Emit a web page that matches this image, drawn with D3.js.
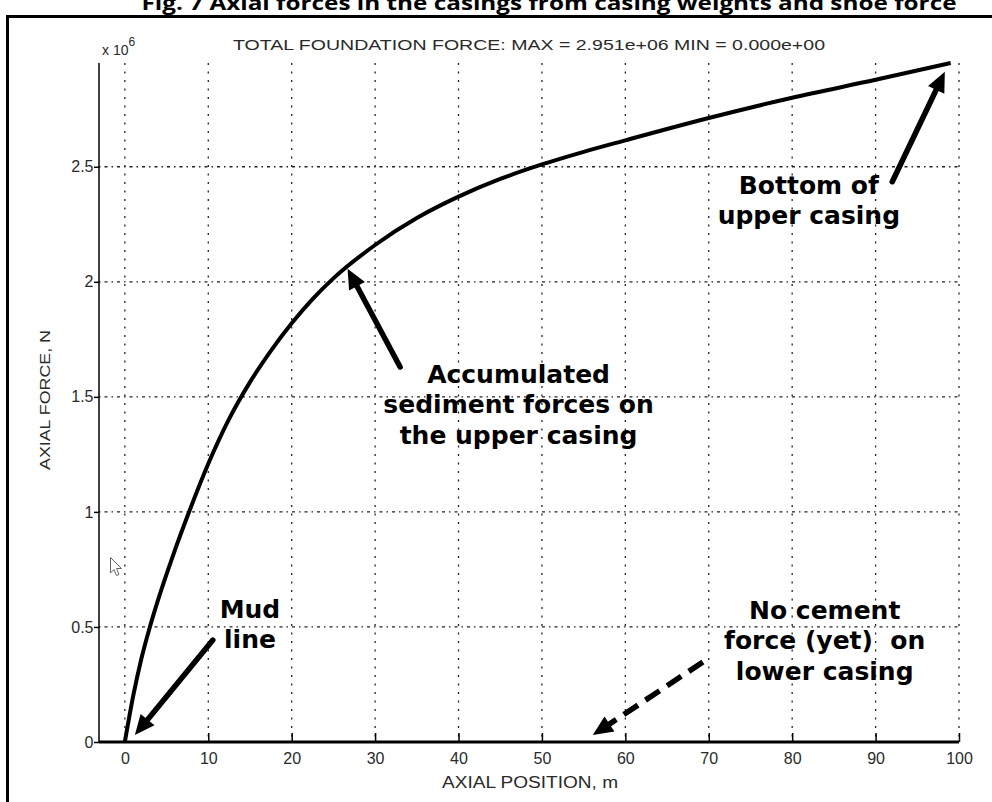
<!DOCTYPE html>
<html><head><meta charset="utf-8">
<script src="https://cdn.jsdelivr.net/npm/d3@7"></script>
<style>body{margin:0;background:#fff} svg{display:block}</style>
</head><body>
<script>
// ---- data (force in units of 10^6 N) ----
const axialPosition = [0,1,2,3,4,5,6,7.5,10,12.5,15,17.5,20,22.5,25,30,35,40,45,50,55,60,70,80,90,99];
const axialForce    = [0,0.2,0.365,0.5,0.62,0.73,0.834,0.981,1.209,1.404,1.564,1.70,1.82,1.925,2.015,2.16,2.277,2.37,2.447,2.51,2.565,2.615,2.712,2.800,2.878,2.951];
const xTickValues = [0,10,20,30,40,50,60,70,80,90,100];
const xTickLabels = ["0","10","20","30","40","50","60","70","80","90","100"];
const yTickValues = [0,0.5,1,1.5,2,2.5];
const yTickLabels = ["0","0.5","1","1.5","2","2.5"];
const noteLines = [["Mud","line"],["Accumulated","sediment forces on","the upper casing"],["Bottom of","upper casing"],["No cement","force (yet)  on","lower casing"]];
const noteCenterX = [15.0, 47.2, 82.0, 83.9];
const noteFirstY  = [0.539, 1.561, 2.383, 0.535];
const arrowTail = [[10.55,0.443],[33.0,1.63],[92.0,2.435],[69.3,0.348]];
const arrowHead = [[1.2,0.03],[26.7,2.057],[98.3,2.913],[56.1,0.03]];
const arrowDashed = [false,false,false,true];
const figTitle = "Fig. 7 Axial forces in the casings from casing weights and shoe force";
const plotTitle = "TOTAL FOUNDATION FORCE: MAX = 2.951e+06 MIN = 0.000e+00";
const xLabel = "AXIAL POSITION, m";
const yLabel = "AXIAL FORCE, N";

const W = 992, H = 802;
const svg = d3.select("body").append("svg").attr("width", W).attr("height", H);
const x = d3.scaleLinear().domain([-3.1, 100]).range([99, 959]);
const y = d3.scaleLinear().domain([0, 2.951]).range([742, 63]);

// figure caption (cut off at the top, as in the source)
svg.append("text").attr("x", 549).attr("y", 10).attr("text-anchor","middle")
  .attr("font-family","'Open Sans', sans-serif").attr("font-weight","bold").attr("font-size",20)
  .attr("textLength",815).attr("lengthAdjust","spacingAndGlyphs").text(figTitle);
// frame
svg.append("path").attr("d","M7.5,802 V16.5 H992").attr("fill","none").attr("stroke","#000").attr("stroke-width",3);

const g = svg.append("g");
// grid
g.selectAll(".vg").data(xTickValues).enter().append("line")
  .attr("x1", d=>x(d)).attr("x2", d=>x(d)).attr("y1", y(2.951)).attr("y2", y(0))
  .attr("stroke","#222").attr("stroke-width",1.3).attr("stroke-dasharray","2,6.5");
g.selectAll(".hg").data(yTickValues.slice(1)).enter().append("line")
  .attr("x1", x.range()[0]).attr("x2", x.range()[1]).attr("y1", d=>y(d)).attr("y2", d=>y(d))
  .attr("stroke","#222").attr("stroke-width",1.3).attr("stroke-dasharray","1.5,4,3,4");

// axes
const fontAx = "'Liberation Sans', Arial, sans-serif";
const xAxis = d3.axisBottom(x).tickValues(xTickValues).tickFormat((d,i)=>xTickLabels[i]).tickSize(-9).tickPadding(11);
const gx = svg.append("g").attr("transform",`translate(0,${y(0)})`).call(xAxis);
gx.select(".domain").attr("d",`M${x.range()[0]},0H${x.range()[1]}`).attr("stroke-width",3);
gx.selectAll(".tick line").attr("stroke-width",1.5);
gx.selectAll("text").attr("font-family",fontAx).attr("font-size",16).attr("fill","#2a2a2a");

const yAxis = d3.axisLeft(y).tickValues(yTickValues).tickFormat((d,i)=>yTickLabels[i]).tickSize(5).tickPadding(0.5);
const gy = svg.append("g").attr("transform",`translate(${x.range()[0]},0)`).call(yAxis);
gy.select(".domain").attr("d",`M0,${y.range()[1]}V${y.range()[0]}`).attr("stroke-width",1.5);
gy.selectAll(".tick line").attr("stroke-width",1.5);
gy.selectAll("text").attr("font-family",fontAx).attr("font-size",16).attr("fill","#2a2a2a");

// exponent label
const ex = svg.append("text").attr("x",102).attr("y",55).attr("font-family",fontAx).attr("font-size",14).attr("fill","#2a2a2a");
ex.append("tspan").text("x 10");
ex.append("tspan").attr("dy",-9).attr("font-size",12).text("6");

// titles
svg.append("text").attr("x",529).attr("y",50).attr("text-anchor","middle").attr("font-family",fontAx)
  .attr("font-size",15).attr("fill","#2a2a2a").attr("textLength",592).attr("lengthAdjust","spacingAndGlyphs").text(plotTitle);
svg.append("text").attr("x",530).attr("y",788).attr("text-anchor","middle").attr("font-family",fontAx)
  .attr("font-size",16).attr("fill","#2a2a2a").attr("textLength",176).attr("lengthAdjust","spacingAndGlyphs").text(xLabel);
svg.append("text").attr("transform","translate(50,400) rotate(-90)").attr("text-anchor","middle").attr("font-family",fontAx)
  .attr("font-size",15).attr("fill","#2a2a2a").attr("textLength",140).attr("lengthAdjust","spacingAndGlyphs").text(yLabel);

// curve
const pts = axialPosition.map((d,i)=>[d, axialForce[i]]);
svg.append("path").datum(pts)
  .attr("d", d3.line().x(d=>x(d[0])).y(d=>y(d[1])).curve(d3.curveMonotoneX))
  .attr("fill","none").attr("stroke","#000").attr("stroke-width",4).attr("stroke-linejoin","round");

// annotations
noteLines.forEach((lines,i)=>{
  const t = svg.append("text").attr("text-anchor","middle").style("white-space","pre")
    .attr("font-family","'DejaVu Sans', Verdana, sans-serif").attr("font-weight","bold").attr("font-size",25).attr("fill","#000");
  lines.forEach((s,j)=>{
    t.append("tspan").attr("x", x(noteCenterX[i])).attr("y", y(noteFirstY[i]) + j*30.5).text(s);
  });
});

// arrows
arrowTail.forEach((tl,i)=>{
  const x0 = x(tl[0]), y0 = y(tl[1]);
  const x1 = x(arrowHead[i][0]), y1 = y(arrowHead[i][1]);
  const dx = x1-x0, dy = y1-y0, L = Math.hypot(dx,dy);
  const ux = dx/L, uy = dy/L, px = -uy, py = ux;
  const hl = 20, hw = 9;
  const bx = x1 - ux*hl, by = y1 - uy*hl;
  svg.append("line").attr("x1",x0).attr("y1",y0).attr("x2",bx+ux*2).attr("y2",by+uy*2)
    .attr("stroke","#000").attr("stroke-width",5.5)
    .attr("stroke-linecap", arrowDashed[i] ? "butt" : "round")
    .attr("stroke-dasharray", arrowDashed[i] ? "17,9" : null);
  svg.append("path").attr("d",`M${x1},${y1}L${bx+px*hw},${by+py*hw}L${bx-px*hw},${by-py*hw}Z`).attr("fill","#000");
});

// mouse pointer artefact
svg.append("path").attr("d","M110.5,557.5 L110.5,573 L114,569.5 L116.5,575.5 L119,574.5 L116.5,568.5 L121.5,568.5 Z")
  .attr("fill","#fff").attr("stroke","#666").attr("stroke-width",1);
</script>
</body></html>
